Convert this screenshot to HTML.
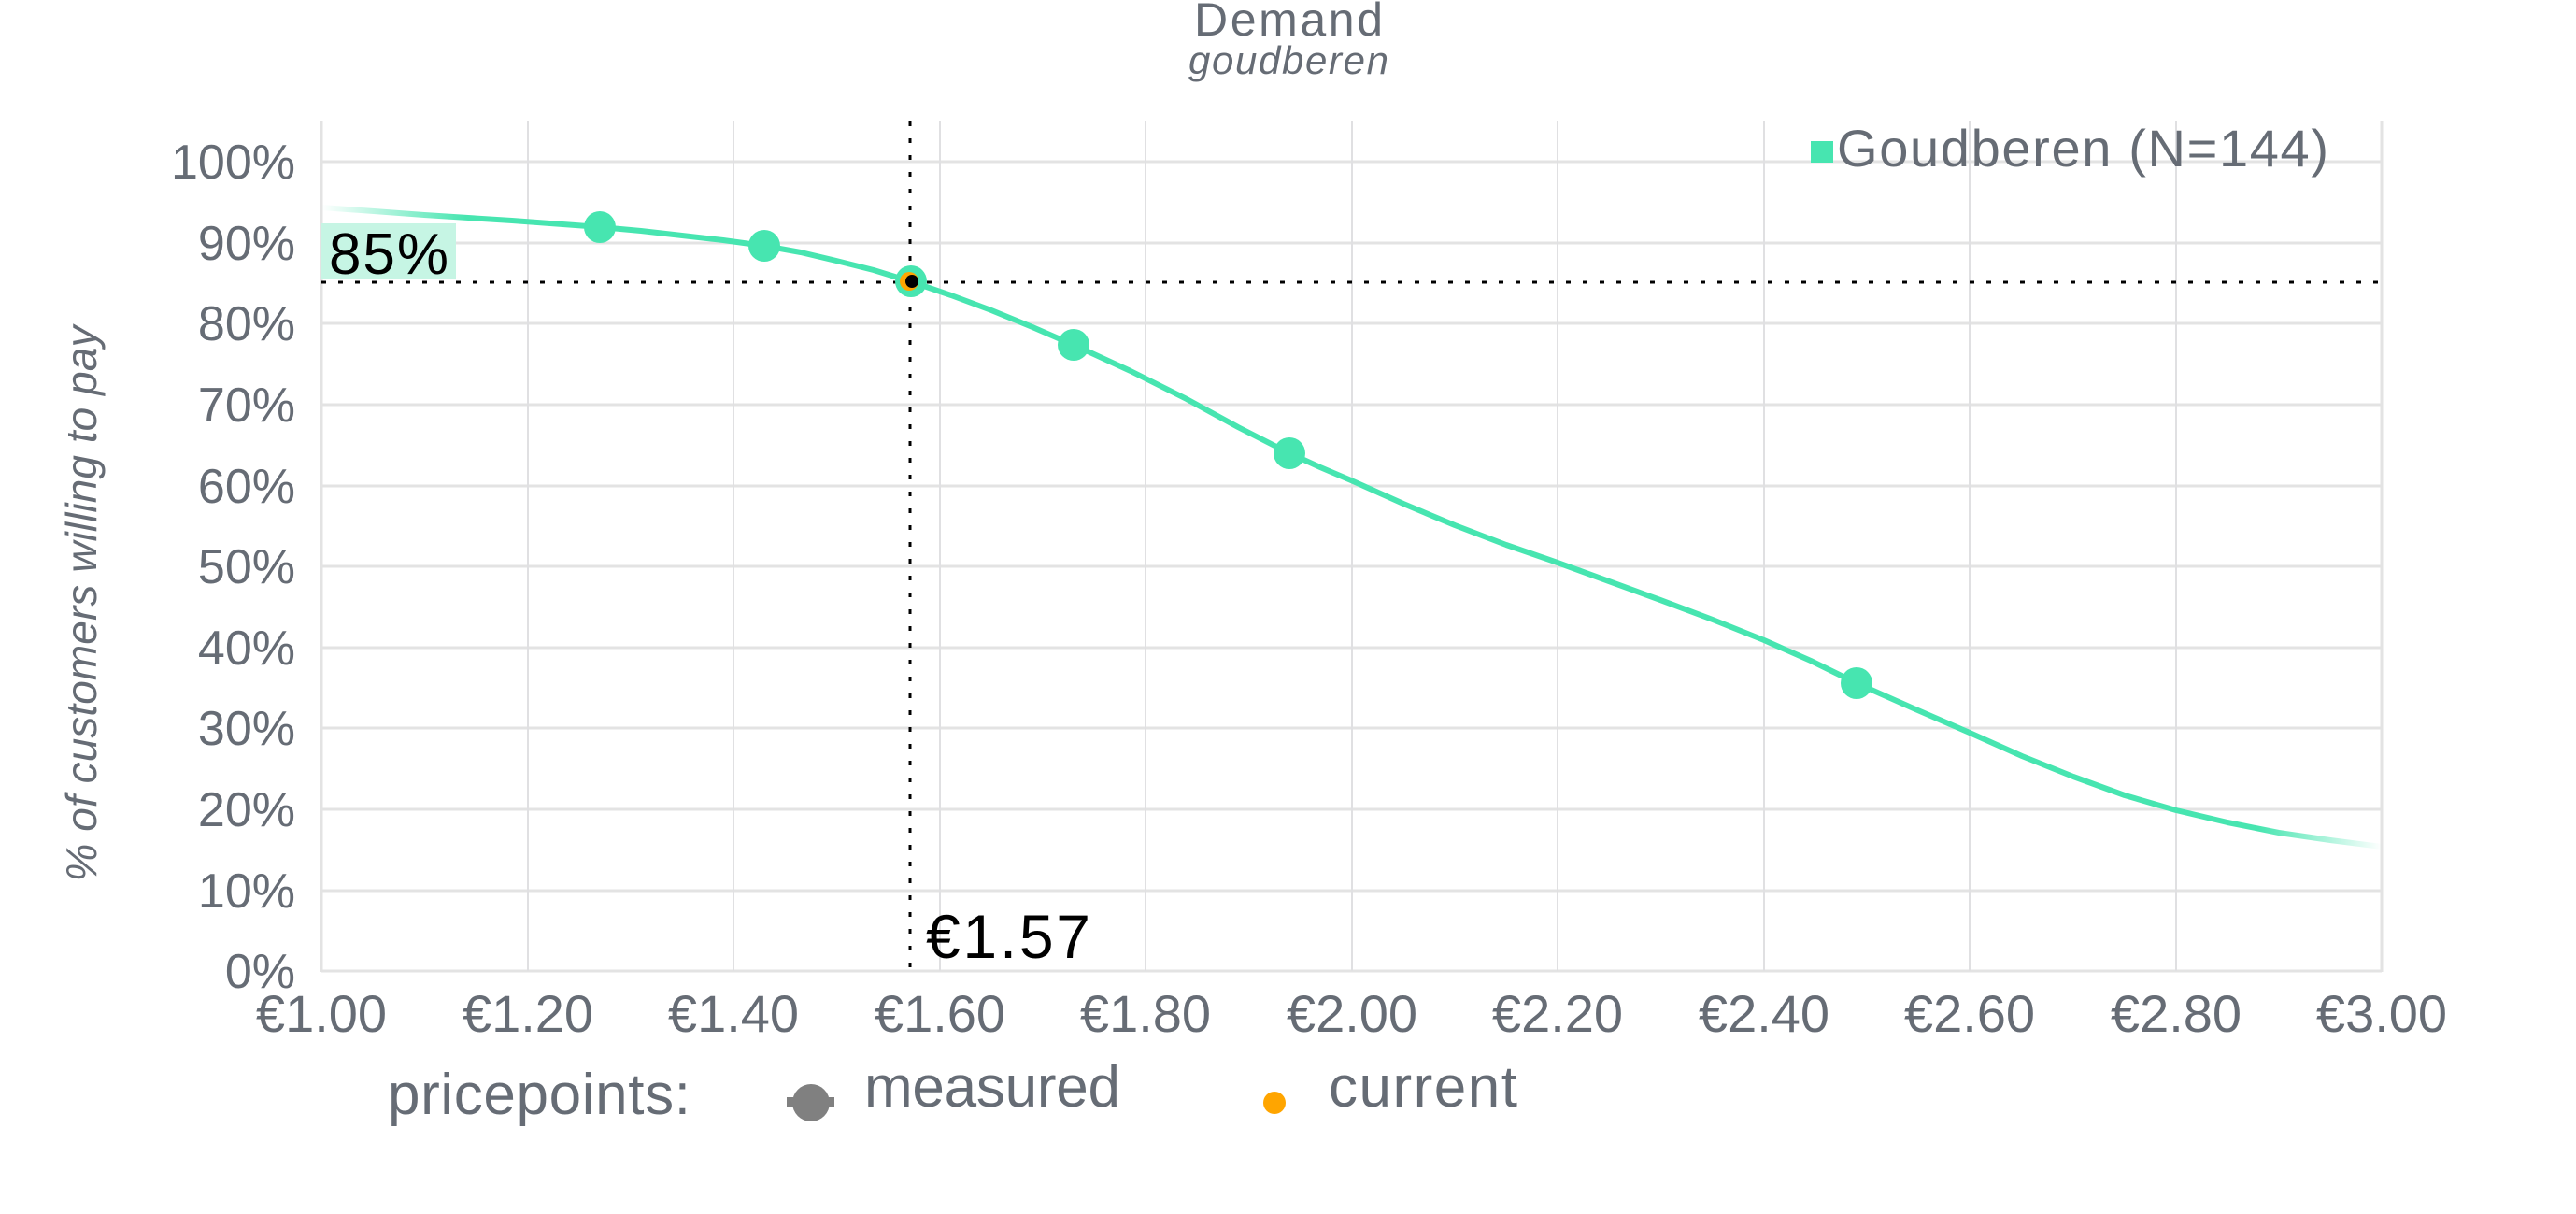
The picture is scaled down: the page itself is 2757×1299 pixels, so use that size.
<!DOCTYPE html>
<html><head><meta charset="utf-8"><style>
html,body{margin:0;padding:0;background:#fff;}
svg{display:block;}
text{font-family:"Liberation Sans",sans-serif;fill:#666c75;}
</style></head><body>
<svg width="2757" height="1299" viewBox="0 0 2757 1299" xmlns="http://www.w3.org/2000/svg">
<defs>
<linearGradient id="fg" gradientUnits="userSpaceOnUse" x1="344" y1="0" x2="2549" y2="0">
<stop offset="0" stop-color="#47e5b0" stop-opacity="0"/>
<stop offset="0.07" stop-color="#47e5b0" stop-opacity="1"/>
<stop offset="0.94" stop-color="#47e5b0" stop-opacity="1"/>
<stop offset="1" stop-color="#47e5b0" stop-opacity="0"/>
</linearGradient>
</defs>
<!-- title -->
<text x="1379" y="38" font-size="50" text-anchor="middle" textLength="202">Demand</text>
<text x="1379" y="79" font-size="42" font-style="italic" text-anchor="middle" textLength="214">goudberen</text>
<!-- grid -->
<g stroke="#e3e3e3" stroke-width="3">
<line x1="344" y1="173" x2="2549" y2="173"/>
<line x1="344" y1="260" x2="2549" y2="260"/>
<line x1="344" y1="346" x2="2549" y2="346"/>
<line x1="344" y1="433" x2="2549" y2="433"/>
<line x1="344" y1="520" x2="2549" y2="520"/>
<line x1="344" y1="606" x2="2549" y2="606"/>
<line x1="344" y1="693" x2="2549" y2="693"/>
<line x1="344" y1="779" x2="2549" y2="779"/>
<line x1="344" y1="866" x2="2549" y2="866"/>
<line x1="344" y1="953" x2="2549" y2="953"/>
<line x1="344" y1="1039" x2="2549" y2="1039"/>
</g>
<g stroke="#e0e0e2" stroke-width="2">
<line x1="565" y1="130" x2="565" y2="1039"/>
<line x1="785" y1="130" x2="785" y2="1039"/>
<line x1="1006" y1="130" x2="1006" y2="1039"/>
<line x1="1226" y1="130" x2="1226" y2="1039"/>
<line x1="1447" y1="130" x2="1447" y2="1039"/>
<line x1="1667" y1="130" x2="1667" y2="1039"/>
<line x1="1888" y1="130" x2="1888" y2="1039"/>
<line x1="2108" y1="130" x2="2108" y2="1039"/>
<line x1="2329" y1="130" x2="2329" y2="1039"/>
</g>
<g stroke="#e3e3e3" stroke-width="3">
<line x1="344" y1="130" x2="344" y2="1040"/>
<line x1="2549" y1="130" x2="2549" y2="1040"/>
</g>
<!-- y labels -->
<g font-size="52" text-anchor="end">
<text x="316" y="191">100%</text>
<text x="316" y="278">90%</text>
<text x="316" y="364">80%</text>
<text x="316" y="451">70%</text>
<text x="316" y="538">60%</text>
<text x="316" y="624">50%</text>
<text x="316" y="711">40%</text>
<text x="316" y="797">30%</text>
<text x="316" y="884">20%</text>
<text x="316" y="971">10%</text>
<text x="316" y="1057">0%</text>
</g>
<!-- x labels -->
<g font-size="56" text-anchor="middle">
<text x="344" y="1104">€1.00</text>
<text x="565" y="1104">€1.20</text>
<text x="785" y="1104">€1.40</text>
<text x="1006" y="1104">€1.60</text>
<text x="1226" y="1104">€1.80</text>
<text x="1447" y="1104">€2.00</text>
<text x="1667" y="1104">€2.20</text>
<text x="1888" y="1104">€2.40</text>
<text x="2108" y="1104">€2.60</text>
<text x="2329" y="1104">€2.80</text>
<text x="2549" y="1104">€3.00</text>
</g>
<!-- y axis title -->
<text transform="translate(103,646) rotate(-90)" font-size="46" font-style="italic" text-anchor="middle" textLength="595">% of customers willing to pay</text>
<!-- 85% box -->
<rect x="344" y="239" width="144" height="59" fill="#c6f5e4"/>
<text x="352" y="293" font-size="62" style="fill:#000" textLength="128">85%</text>
<!-- dotted lines -->
<line x1="344" y1="302" x2="2549" y2="302" stroke="#000" stroke-width="3" stroke-dasharray="5,13"/>
<line x1="974" y1="130" x2="974" y2="1039" stroke="#000" stroke-width="3" stroke-dasharray="5,13"/>
<!-- curve -->
<polyline fill="none" stroke="url(#fg)" stroke-width="6" stroke-linejoin="round" stroke-linecap="round"
points="344,222 400,226 454,230 548,236 642,243 686,247 730,252 774,257 818,263 857,270 895,279 935,289 974,301 1018,316 1061,332 1105,350 1149,369 1210,397 1270,427 1325,457 1380,485 1413,500 1446,514 1502,539 1557,562 1612,583 1667,602 1722,622 1777,642 1833,663 1888,685 1938,707 1987,731 2048,758 2108,784 2164,809 2219,831 2274,851 2329,867 2384,880 2439,891 2494,899 2549,906"/>
<!-- points -->
<g fill="#47e5b0">
<circle cx="642" cy="243" r="17"/>
<circle cx="818" cy="263" r="17"/>
<circle cx="1149" cy="369" r="17"/>
<circle cx="1380" cy="485" r="17"/>
<circle cx="1987" cy="731" r="17"/>
<circle cx="975" cy="301" r="17"/>
</g>
<circle cx="973" cy="301" r="10" fill="#ffa500"/>
<circle cx="976" cy="301" r="7" fill="#000"/>
<!-- €1.57 -->
<text x="991" y="1025" font-size="66" style="fill:#000" textLength="176">€1.57</text>
<!-- legend top -->
<rect x="1938" y="151" width="24" height="23" fill="#47e5b0"/>
<text x="1966" y="178" font-size="56" textLength="526">Goudberen (N=144)</text>
<!-- bottom legend -->
<text x="415" y="1192" font-size="62" textLength="324">pricepoints:</text>
<rect x="842" y="1174" width="51" height="11" fill="#808080"/>
<circle cx="868" cy="1180" r="20" fill="#808080"/>
<text x="925" y="1184" font-size="62" textLength="274">measured</text>
<circle cx="1364" cy="1180" r="12" fill="#ffa500"/>
<text x="1422" y="1184" font-size="62" textLength="202">current</text>
</svg>
</body></html>
